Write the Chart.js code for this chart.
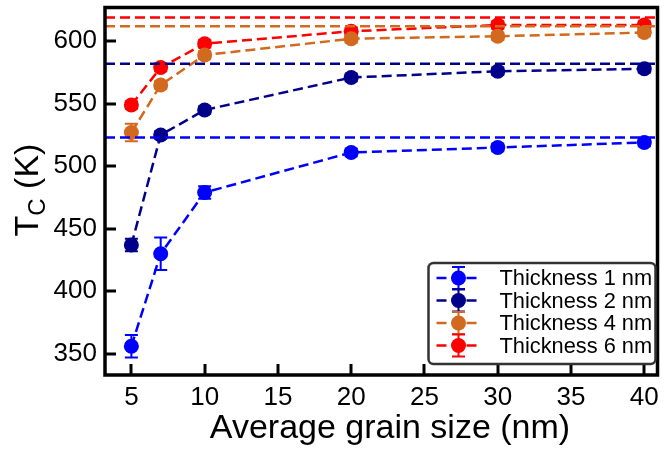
<!DOCTYPE html>
<html>
<head>
<meta charset="utf-8">
<script src="https://cdn.jsdelivr.net/npm/chart.js@4.4.1/dist/chart.umd.min.js"></script>
<style>
html,body{margin:0;padding:0;background:#fff;}
#wrap{width:665px;height:450px;}
</style>
</head>
<body>
<div id="wrap"><canvas id="c" width="665" height="450"></canvas></div>
<script>
// ---- data ----
const grainSize = [5, 7, 10, 20, 30, 40];
const seriesLabels = ["Thickness 1 nm", "Thickness 2 nm", "Thickness 4 nm", "Thickness 6 nm"];
const tc1 = [356, 430, 479, 511, 515, 519];
const tc2 = [437, 525, 545, 571, 576, 578];
const tc4 = [527, 565, 589, 602, 604, 607];
const tc6 = [549, 579, 598, 608, 613, 613];
const err1 = [9, 13, 5, 3, 3, 3];
const err2 = [5, 3, 3, 3, 3, 3];
const err4 = [7, 3, 3, 3, 3, 3];
const err6 = [3, 3, 3, 3, 3, 3];
const asymptotes = [523, 582, 612, 619];
const xTicks = [5, 10, 15, 20, 25, 30, 35, 40];
const yTicks = [350, 400, 450, 500, 550, 600];
const X_MIN = 3.2, X_MAX = 40.9, Y_MIN = 333, Y_MAX = 627;

const colors = ["#0000FF", "#00008B", "#D2691E", "#FF0000"];
const allTc = [tc1, tc2, tc4, tc6];
const allErr = [err1, err2, err4, err6];

const DASH = [10, 5];
const LW = 2.5;
const FAM = '"Liberation Sans", Arial, sans-serif';

const datasets = [];
asymptotes.forEach((v, i) => {
  datasets.push({
    label: "ref" + i,
    data: [{x: X_MIN, y: v}, {x: X_MAX, y: v}],
    borderColor: colors[i],
    borderWidth: LW,
    borderDash: DASH,
    pointRadius: 0,
    fill: false
  });
});
allTc.forEach((arr, i) => {
  datasets.push({
    label: seriesLabels[i],
    data: grainSize.map((g, k) => ({x: g, y: arr[k]})),
    borderColor: colors[i],
    backgroundColor: colors[i],
    pointBackgroundColor: colors[i],
    pointBorderColor: colors[i],
    pointBorderWidth: 0,
    pointRadius: 7.5,
    borderWidth: LW,
    borderDash: DASH,
    tension: 0,
    fill: false
  });
});

const errorBarPlugin = {
  id: 'errbars',
  beforeDatasetsDraw(chart) {
    const ctx = chart.ctx, xs = chart.scales.x, ys = chart.scales.y;
    ctx.save();
    allTc.forEach((arr, i) => {
      ctx.strokeStyle = colors[i];
      ctx.lineWidth = 2;
      grainSize.forEach((g, k) => {
        const px = xs.getPixelForValue(g);
        const top = ys.getPixelForValue(arr[k] + allErr[i][k]);
        const bot = ys.getPixelForValue(arr[k] - allErr[i][k]);
        ctx.beginPath();
        ctx.moveTo(px, top); ctx.lineTo(px, bot);
        ctx.moveTo(px - 6.5, top); ctx.lineTo(px + 6.5, top);
        ctx.moveTo(px - 6.5, bot); ctx.lineTo(px + 6.5, bot);
        ctx.stroke();
      });
    });
    ctx.restore();
  }
};

const framePlugin = {
  id: 'frame',
  afterDraw(chart) {
    const ctx = chart.ctx, a = chart.chartArea, xs = chart.scales.x, ys = chart.scales.y;
    ctx.save();
    ctx.strokeStyle = '#000';
    ctx.lineWidth = 3;
    xTicks.forEach(t => {
      const px = Math.round(xs.getPixelForValue(t));
      ctx.beginPath(); ctx.moveTo(px, a.bottom); ctx.lineTo(px, a.bottom - 11); ctx.stroke();
    });
    yTicks.forEach(t => {
      const py = Math.round(ys.getPixelForValue(t));
      ctx.beginPath(); ctx.moveTo(a.left, py); ctx.lineTo(a.left + 11, py); ctx.stroke();
    });
    ctx.lineWidth = 3.5;
    ctx.strokeRect(a.left, a.top, a.right - a.left, a.bottom - a.top);

    // legend
    const bw = 227, bh = 101;
    const bx = a.right - 2 - bw, by = a.bottom - 11 - bh;
    ctx.beginPath();
    if (ctx.roundRect) ctx.roundRect(bx, by, bw, bh, 5); else ctx.rect(bx, by, bw, bh);
    ctx.fillStyle = '#fff';
    ctx.fill();
    ctx.lineWidth = 2.5;
    ctx.strokeStyle = '#333';
    ctx.stroke();
    ctx.font = '21.8px ' + FAM;
    ctx.textBaseline = 'middle';
    ctx.textAlign = 'left';
    seriesLabels.forEach((lab, i) => {
      const cy = by + 15 + i * 22.5;
      const hx0 = bx + 8, hx1 = bx + 53, mx = bx + 30;
      ctx.strokeStyle = colors[i];
      ctx.lineWidth = LW;
      ctx.setLineDash(DASH);
      ctx.beginPath(); ctx.moveTo(hx0, cy); ctx.lineTo(hx1, cy); ctx.stroke();
      ctx.setLineDash([]);
      ctx.lineWidth = 2;
      ctx.beginPath();
      ctx.moveTo(mx, cy - 11); ctx.lineTo(mx, cy + 11);
      ctx.moveTo(mx - 6.5, cy - 11); ctx.lineTo(mx + 6.5, cy - 11);
      ctx.moveTo(mx - 6.5, cy + 11); ctx.lineTo(mx + 6.5, cy + 11);
      ctx.stroke();
      ctx.fillStyle = colors[i];
      ctx.beginPath(); ctx.arc(mx, cy, 7.5, 0, Math.PI * 2); ctx.fill();
      ctx.fillStyle = '#000';
      ctx.fillText(lab, bx + 71, cy + 1);
    });

    // x title
    ctx.fillStyle = '#000';
    ctx.font = '34px ' + FAM;
    ctx.textAlign = 'center';
    ctx.textBaseline = 'alphabetic';
    ctx.fillText('Average grain size (nm)', 390, 438);

    // y title with subscript
    ctx.translate(38, 190);
    ctx.rotate(-Math.PI / 2);
    const bigF = '34px ' + FAM;
    const smallF = '24px ' + FAM;
    ctx.font = bigF; const wT = ctx.measureText('T').width; const wK = ctx.measureText(' (K)').width;
    ctx.font = smallF; const wC = ctx.measureText('C').width;
    const total = wT + wC + wK;
    const x0 = -total / 2;
    ctx.textAlign = 'left';
    ctx.font = bigF; ctx.fillText('T', x0, 0);
    ctx.font = smallF; ctx.fillText('C', x0 + wT, 7);
    ctx.font = bigF; ctx.fillText(' (K)', x0 + wT + wC, 0);
    ctx.restore();
  }
};

new Chart(document.getElementById('c'), {
  type: 'line',
  data: { datasets },
  options: {
    responsive: false,
    animation: false,
    layout: { padding: { top: 7, right: 5, left: 0, bottom: 0 } },
    plugins: { legend: { display: false }, tooltip: { enabled: false } },
    scales: {
      x: {
        type: 'linear', min: X_MIN, max: X_MAX,
        afterBuildTicks(s) { s.ticks = xTicks.map(v => ({value: v})); },
        afterFit(s) { s.height = 75; s.paddingLeft = 0; s.paddingRight = 0; },
        grid: { display: false, drawTicks: false },
        border: { display: false },
        ticks: { color: '#000', font: { size: 26, family: FAM }, padding: 7, maxRotation: 0 }
      },
      y: {
        type: 'linear', min: Y_MIN, max: Y_MAX,
        afterBuildTicks(s) { s.ticks = yTicks.map(v => ({value: v})); },
        afterFit(s) { s.width = 105; s.paddingTop = 0; s.paddingBottom = 0; },
        grid: { display: false, drawTicks: false },
        border: { display: false },
        ticks: { color: '#000', font: { size: 26, family: FAM }, padding: 8 }
      }
    }
  },
  plugins: [errorBarPlugin, framePlugin]
});
</script>
</body>
</html>
